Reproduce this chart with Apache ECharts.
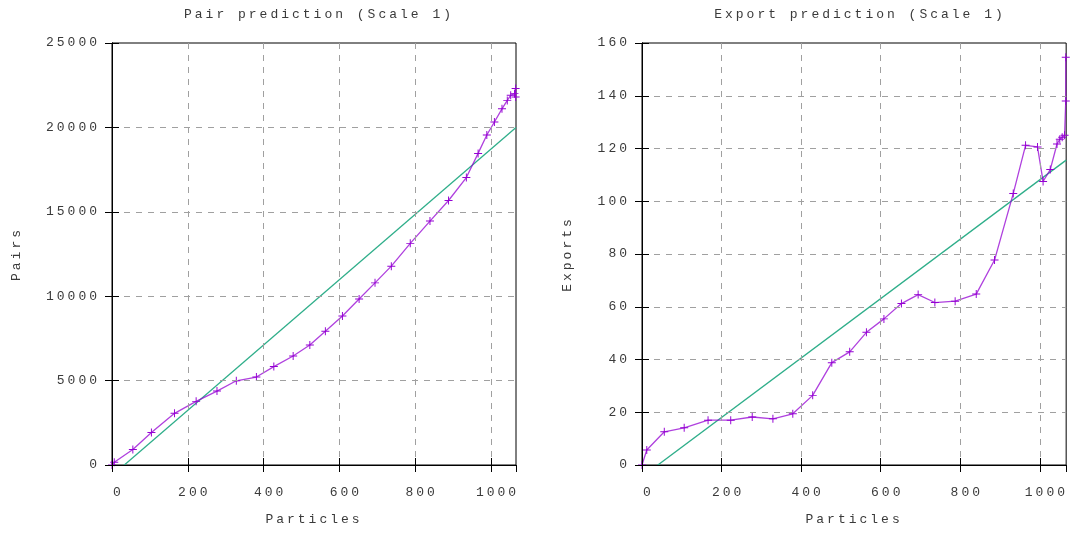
<!DOCTYPE html>
<html>
<head>
<meta charset="utf-8">
<script src="https://cdn.jsdelivr.net/npm/echarts@6/dist/echarts.min.js"></script>
<style>
  html, body { margin: 0; padding: 0; background: #fff; }
  #chart { width: 1071px; height: 534px; }
</style>
</head>
<body>
<div id="chart"></div>
<script>
// Measured pair counts against particle count
const pairParticles = [0, 6, 55, 104, 165, 222, 277, 328, 381, 427, 478, 522, 563, 608, 652, 694, 737, 787, 839, 888, 935, 966, 989, 1009, 1029, 1043, 1052, 1062, 1065, 1065];
const pairs = [0, 160, 915, 1920, 3060, 3770, 4380, 4990, 5210, 5830, 6460, 7110, 7920, 8830, 9830, 10790, 11780, 13130, 14450, 15670, 17030, 18460, 19550, 20320, 21100, 21600, 21900, 22000, 22300, 21800];

// Linear fit for pairs (end points)
const pairFitX = [0, 1066];
const pairFitY = [-629, 20000];

// Measured exports against particle count
const exportParticles = [0, 12, 56, 106, 166, 223, 277, 329, 379, 429, 477, 522, 564, 608, 652, 694, 736, 787, 840, 886, 933, 964, 994, 1008, 1026, 1043, 1050, 1056, 1062, 1065, 1065];
const exportsVals = [0, 5.7, 12.6, 14.1, 17.0, 17.0, 18.2, 17.5, 19.4, 26.4, 38.8, 42.9, 50.3, 55.4, 61.2, 64.6, 61.6, 62.1, 64.8, 77.7, 102.9, 121.2, 120.6, 107.5, 112.0, 121.7, 123.5, 124.3, 125.0, 138.0, 154.6];

// Linear fit for exports (end points)
const exportFitX = [0, 1066];
const exportFitY = [-4.5, 115.6];

// Axis ranges and tick steps
const xRange = [0, 1066], xStep = 200;
const pairRange = [0, 25000], pairStep = 5000;
const exportRange = [0, 160], exportStep = 20;

const zip = (xs, ys) => xs.map((x, i) => [x, ys[i]]);

// Wide, typewriter-like text: add tracking to every canvas text call
(function () {
  const proto = CanvasRenderingContext2D.prototype;
  const SPACING = '3px';
  ['fillText', 'strokeText', 'measureText'].forEach(fn => {
    const orig = proto[fn];
    proto[fn] = function () {
      if ('letterSpacing' in this) this.letterSpacing = SPACING;
      return orig.apply(this, arguments);
    };
  });
})();

const FONT = '"Liberation Mono", "DejaVu Sans Mono", monospace';
const FS = 13;
const TEXT = '#3a3a3a';
const PURPLE = '#9400d3';
const GREEN = '#2fae8a';
const PLUS = 'path://M0,4.4H10V5.6H0Z M4.4,0H5.6V10H4.4Z';
const plain = v => String(v);
const GRID_LINE = { show: true, showMinLine: false, showMaxLine: false,
  lineStyle: { color: '#a0a0a0', type: [6, 6], width: 1 } };

function xAxes(gridIndex) {
  const base = {
    type: 'value', gridIndex, min: xRange[0], max: xRange[1], interval: xStep,
    axisLine: { show: true, lineStyle: { color: '#000', width: 1 } },
    axisTick: { show: true, inside: true, length: 7, lineStyle: { color: '#000' } }
  };
  return [
    Object.assign({}, base, {
      position: 'bottom', z: 4,
      name: 'Particles', nameLocation: 'middle', nameGap: 47,
      nameTextStyle: { fontFamily: FONT, fontSize: FS, color: TEXT },
      axisLabel: { show: true, margin: 20, padding: [0, 0, 0, 13], fontFamily: FONT, fontSize: FS,
        color: TEXT, showMaxLabel: false, formatter: plain },
      splitLine: GRID_LINE
    }),
    Object.assign({}, base, {
      position: 'top', z: 6,
      axisLabel: { show: false },
      splitLine: { show: false }
    })
  ];
}

function yAxes(gridIndex, range, step, name, gap) {
  const base = {
    type: 'value', gridIndex, min: range[0], max: range[1], interval: step,
    axisLine: { show: true, lineStyle: { color: '#000', width: 1 } },
    axisTick: { show: true, inside: true, length: 7, lineStyle: { color: '#000' } }
  };
  return [
    Object.assign({}, base, {
      position: 'left', z: 4,
      name, nameLocation: 'middle', nameGap: gap, nameRotate: 90,
      nameTextStyle: { fontFamily: FONT, fontSize: FS, color: TEXT },
      axisLabel: { show: true, margin: 12, fontFamily: FONT, fontSize: FS, color: TEXT, formatter: plain },
      splitLine: GRID_LINE
    }),
    Object.assign({}, base, {
      position: 'right', z: 6,
      axisLabel: { show: false },
      splitLine: { show: false }
    })
  ];
}

function measured(xi, yi, data) {
  return {
    type: 'line', xAxisIndex: xi, yAxisIndex: yi, data,
    symbol: PLUS, symbolSize: 8, showAllSymbol: true,
    itemStyle: { color: PURPLE },
    lineStyle: { color: PURPLE, width: 1.3, opacity: 0.75 },
    clip: false, z: 3, animation: false
  };
}

function fit(xi, yi, data) {
  return {
    type: 'line', xAxisIndex: xi, yAxisIndex: yi, data,
    symbol: 'none', lineStyle: { color: GREEN, width: 1.3 },
    clip: true, z: 2, animation: false
  };
}

const chart = echarts.init(document.getElementById('chart'), null, { renderer: 'canvas' });
chart.setOption({
  animation: false,
  backgroundColor: '#fff',
  title: [
    { text: 'Pair prediction (Scale 1)', left: 314, top: 2, textAlign: 'center',
      textStyle: { fontFamily: FONT, fontSize: FS, fontWeight: 'normal', color: TEXT } },
    { text: 'Export prediction (Scale 1)', left: 855, top: 2, textAlign: 'center',
      textStyle: { fontFamily: FONT, fontSize: FS, fontWeight: 'normal', color: TEXT } }
  ],
  grid: [
    { left: 112, right: 555, top: 43, bottom: 69, show: true, borderColor: '#000', borderWidth: 1, backgroundColor: 'transparent' },
    { left: 642, right: 4, top: 43, bottom: 69, show: true, borderColor: '#000', borderWidth: 1, backgroundColor: 'transparent' }
  ],
  xAxis: [...xAxes(0), ...xAxes(1)],
  yAxis: [...yAxes(0, pairRange, pairStep, 'Pairs', 87), ...yAxes(1, exportRange, exportStep, 'Exports', 66)],
  series: [
    fit(0, 0, zip(pairFitX, pairFitY)),
    measured(0, 0, zip(pairParticles, pairs)),
    fit(2, 2, zip(exportFitX, exportFitY)),
    measured(2, 2, zip(exportParticles, exportsVals))
  ]
});
</script>
</body>
</html>
